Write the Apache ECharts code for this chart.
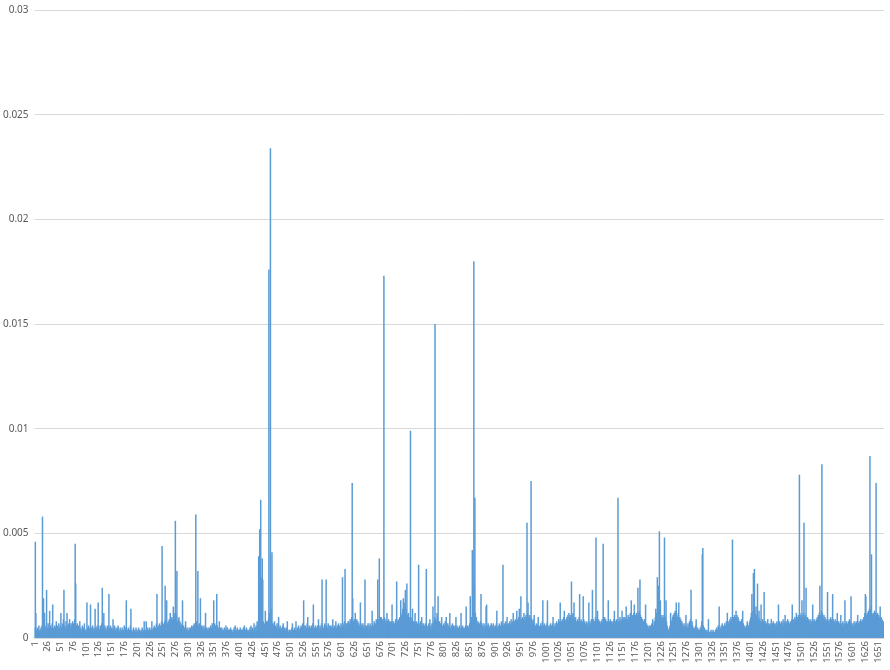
<!DOCTYPE html>
<html>
<head>
<meta charset="utf-8">
<script src="https://cdn.jsdelivr.net/npm/echarts@6/dist/echarts.min.js"></script>
<style>
html,body{margin:0;padding:0;background:#ffffff;}
#chart{width:890px;height:670px;}
</style>
</head>
<body>
<div id="chart"></div>
<script>
// Values are listed in units of 0.0001, one array per 100 categories
const UNIT = 0.0001;
const seg01 = [
5,46,12,4,3,5,3,4,6,3,
4,3,5,4,6,58,5,19,4,12,
5,3,6,23,5,4,7,5,4,13,
4,6,3,5,7,16,4,5,3,6,
4,5,8,4,6,5,3,7,5,4,
6,12,5,4,7,5,9,23,6,5,
4,8,5,12,6,4,7,5,9,6,
5,7,4,6,8,5,7,6,9,45,
26,6,5,7,4,6,5,3,8,4,
5,3,4,6,3,5,4,7,3,4];
const seg02 = [
4,3,17,5,4,6,3,5,4,16,
3,5,4,6,3,4,5,3,14,4,
5,3,6,4,17,5,3,4,6,3,
5,7,24,4,5,12,3,6,4,5,
3,4,6,5,4,21,5,3,6,4,
5,3,4,9,5,3,6,4,3,5,
4,3,5,6,3,4,2,5,3,4,
3,5,2,4,3,6,3,4,5,18,
3,4,2,5,3,4,3,6,14,3,
4,2,3,5,3,4,2,3,5,3];
const seg03 = [
4,3,2,5,3,4,3,2,4,3,
5,3,4,2,8,3,4,3,8,4,
3,5,2,4,3,5,4,3,4,8,
3,4,5,3,6,4,5,3,7,21,
5,4,6,5,7,4,6,5,8,44,
6,5,7,6,8,25,6,9,18,7,
6,8,7,9,6,12,8,7,10,8,
9,15,8,10,12,56,9,11,32,8,
7,9,10,6,8,5,7,6,5,18,
4,6,3,5,4,8,3,4,5,3];
const seg04 = [
4,3,5,4,3,5,4,6,5,4,
6,5,7,5,6,59,8,6,7,32,
6,5,7,6,19,5,6,4,5,6,
4,5,3,6,12,4,5,3,4,5,
3,4,5,3,6,4,5,7,4,6,
18,5,7,4,6,5,21,6,4,5,
4,8,3,5,4,3,5,4,3,4,
3,5,4,3,6,4,3,5,3,4,
2,4,3,5,3,4,2,3,4,3,
5,3,6,3,4,2,5,3,4,3];
const seg05 = [
4,3,5,3,4,2,4,3,5,3,
6,3,4,3,5,4,3,4,2,4,
3,5,3,6,4,3,5,4,3,7,
4,5,3,6,4,8,5,7,39,12,
52,10,66,29,9,38,28,8,6,7,
5,13,6,8,5,8,6,9,176,12,
10,234,14,9,41,7,6,5,7,8,
5,6,4,5,7,4,6,10,5,4,
6,4,5,3,4,6,7,4,3,5,
4,3,5,3,8,4,3,2,4,3];
const seg06 = [
3,4,2,5,7,3,4,2,5,3,
4,8,3,4,5,3,6,4,3,5,
4,6,5,4,7,5,18,6,4,5,
6,4,5,7,10,5,4,6,3,5,
4,6,5,3,7,16,4,5,4,6,
3,5,4,6,4,9,5,3,6,4,
5,7,28,6,4,5,4,7,5,6,
28,6,4,5,7,4,6,5,3,6,
4,5,6,9,4,5,6,4,5,8,
5,4,6,5,7,4,6,5,4,7];
const seg07 = [
5,6,29,7,5,6,8,33,5,7,
6,7,5,8,8,6,7,9,6,9,
10,74,19,8,7,9,6,12,8,7,
9,6,8,5,7,6,5,17,7,6,
6,5,7,4,6,5,28,4,6,5,
6,5,7,4,6,5,7,4,6,5,
13,7,5,6,8,5,7,6,9,7,
8,28,7,9,38,8,10,7,10,9,
9,7,8,173,10,8,7,9,8,12,
8,7,9,6,8,8,7,6,8,16];
const seg08 = [
7,6,8,5,7,6,9,7,27,8,
7,9,6,8,10,9,18,11,10,12,
14,19,13,15,17,23,14,12,26,11,
10,12,9,10,8,99,10,8,9,14,
7,8,6,8,12,7,6,8,5,7,
6,35,7,5,6,8,5,10,6,4,
7,5,6,4,7,5,33,5,4,6,
5,7,6,9,5,6,4,7,5,15,
7,8,10,150,9,7,8,12,10,20,
8,6,8,5,7,6,10,5,6,4];
const seg09 = [
7,5,6,8,5,10,6,4,7,5,
6,5,12,5,4,6,5,7,4,6,
5,4,6,5,10,4,6,5,3,5,
4,6,5,4,12,5,4,6,3,5,
4,5,3,6,15,5,4,6,5,4,
6,7,20,8,9,10,42,28,12,180,
25,67,12,9,10,8,7,8,6,7,
7,5,8,21,6,7,5,6,5,7,
4,6,5,15,16,6,5,7,6,5,
4,6,5,7,4,6,5,7,6,5];
const seg10 = [
4,6,5,7,13,5,4,6,5,7,
4,6,5,8,6,7,35,6,5,7,
6,8,5,7,10,6,5,7,6,8,
7,5,9,6,8,7,12,6,8,7,
9,7,8,13,7,9,8,10,14,9,
8,20,9,7,10,8,9,12,7,10,
9,11,10,55,12,17,10,9,11,8,
10,75,9,8,7,9,6,11,7,5,
6,4,7,5,6,10,5,4,6,5,
7,5,6,8,18,6,5,7,6,5];
const seg11 = [
6,5,7,18,6,5,4,6,5,7,
5,6,4,7,10,5,6,4,7,5,
6,8,5,7,6,9,7,8,17,7,
8,6,9,7,8,10,13,8,7,9,
8,10,9,11,8,12,10,9,11,10,
27,11,9,12,10,17,9,8,10,7,
8,6,9,7,8,10,21,8,7,9,
6,8,7,20,9,6,8,5,7,6,
8,5,7,6,17,5,8,6,7,9,
8,23,7,9,6,8,7,10,48,9];
const seg12 = [
8,13,7,9,6,8,7,6,8,7,
9,8,45,10,8,10,7,9,8,6,
8,7,18,6,8,7,9,6,8,7,
6,8,7,9,13,7,8,6,9,7,
8,67,7,9,8,10,7,8,9,13,
8,10,9,7,10,8,9,15,10,8,
9,11,8,10,9,12,10,18,9,11,
10,8,12,16,9,11,10,12,9,11,
24,12,10,13,28,11,9,10,8,9,
7,8,6,9,7,16,6,7,5,6];
const seg13 = [
5,4,6,5,4,6,5,7,4,9,
5,6,8,7,10,14,9,12,29,15,
25,14,51,12,18,10,9,11,8,10,
9,11,48,10,9,18,8,6,5,4,
3,4,5,6,12,7,8,9,10,11,
9,12,10,13,11,17,12,10,9,11,
17,9,10,8,9,7,8,6,7,5,
6,5,7,5,11,6,4,5,7,5,
6,8,7,9,23,7,8,6,5,4,
5,3,4,6,9,4,3,5,4,3];
const seg14 = [
4,3,5,4,6,8,40,43,6,4,
5,3,4,2,3,4,3,2,9,3,
2,3,2,4,3,2,3,4,2,3,
3,2,4,3,5,3,4,6,5,15,
4,5,3,6,4,7,5,4,6,5,
7,5,6,8,6,12,7,6,8,7,
9,7,10,8,9,47,8,10,9,11,
8,10,13,9,11,8,10,9,7,8,
6,8,7,9,6,13,7,5,6,4,
5,4,6,3,8,4,5,6,7,8];
const seg15 = [
9,10,12,21,11,13,31,14,33,12,
10,15,11,9,26,10,8,13,9,8,
7,16,8,6,9,7,8,22,7,6,
8,5,7,6,9,5,7,6,5,7,
6,9,5,7,6,8,5,7,6,5,
7,6,8,5,7,16,6,8,5,7,
6,8,7,5,9,6,8,7,11,6,
8,5,7,9,6,8,5,7,6,8,
7,9,16,8,6,9,7,10,8,9,
12,8,10,9,11,10,78,12,9,11];
const seg16 = [
10,18,9,11,12,55,10,9,11,24,
9,8,10,7,9,8,6,9,7,8,
6,9,16,8,7,9,6,8,7,9,
8,10,9,11,10,12,25,11,10,13,
83,12,10,9,11,8,10,9,7,8,
9,22,8,7,9,6,8,10,7,9,
8,21,9,7,8,6,9,7,8,6,
12,7,6,8,5,7,6,11,7,5,
6,8,5,7,6,18,7,5,8,6,
7,5,8,6,9,7,8,20,7,6];
const seg17 = [
5,7,6,8,5,7,6,8,7,6,
11,7,6,8,5,7,9,6,8,7,
9,8,10,9,12,21,20,11,10,12,
11,13,12,14,87,13,15,40,12,11,
10,12,11,13,10,12,74,11,10,12,
9,11,10,8,15,9,10,8,9,7,
8,6];

const rawValues = [].concat(seg01,seg02,seg03,seg04,seg05,seg06,seg07,seg08,seg09,
  seg10,seg11,seg12,seg13,seg14,seg15,seg16,seg17);
const values = rawValues.map(v => +(v * UNIT).toFixed(6));
const categories = rawValues.map((_, i) => String(i + 1));
const yTicks = { min: 0, max: 0.03, interval: 0.005 };
const labelEvery = 25;

const chart = echarts.init(document.getElementById('chart'), null, { renderer: 'canvas' });
chart.setOption({
  animation: false,
  backgroundColor: '#ffffff',
  grid: { left: 33, right: 6, top: 10, bottom: 32, containLabel: false },
  xAxis: {
    type: 'category',
    data: categories,
    boundaryGap: true,
    axisLine: { show: true, lineStyle: { color: '#d9d9d9', width: 1 } },
    axisTick: { show: false },
    axisLabel: {
      interval: labelEvery - 1,
      rotate: 90,
      margin: 3,
      color: '#595959',
      fontSize: 9.5,
      fontFamily: 'Noto Sans'
    },
    splitLine: { show: false }
  },
  yAxis: {
    type: 'value',
    min: yTicks.min,
    max: yTicks.max,
    interval: yTicks.interval,
    axisLine: { show: false },
    axisTick: { show: false },
    axisLabel: {
      color: '#595959',
      fontSize: 10,
      fontFamily: 'Noto Sans',
      margin: 6
    },
    splitLine: { show: true, lineStyle: { color: '#d9d9d9', width: 1 } }
  },
  series: [{
    type: 'bar',
    data: values,
    barWidth: 1.5,
    barGap: '0%',
    itemStyle: { color: '#5b9bd5' },
    emphasis: { disabled: true },
    silent: true
  }]
});
</script>
</body>
</html>
